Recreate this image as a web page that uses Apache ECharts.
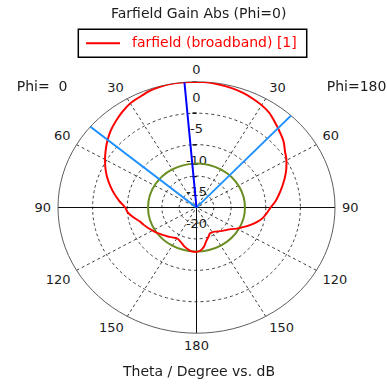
<!DOCTYPE html>
<html>
<head>
<meta charset="utf-8">
<script src="https://cdn.jsdelivr.net/npm/echarts@6/dist/echarts.min.js"></script>
<style>
html,body{margin:0;padding:0;background:#fff;overflow:hidden;}
#plot{position:absolute;left:0;top:0;width:387px;height:387px;transform:scaleY(0.9076);transform-origin:0 207.5px;}
#text{position:absolute;left:0;top:0;width:387px;height:387px;pointer-events:none;}
</style>
</head>
<body>
<div id="plot"></div>
<div id="text"></div>
<script>
// ---- data (theta measured clockwise from top; right half = Phi=180 side, left half = Phi=0 side) ----
const seriesName = 'farfield (broadband) [1]';
const thetaDeg = [0,5,10,15,20,25,30,35,40,45,50,55,60,65,70,75,80,85,90,95,100,105,110,115,120,125,130,135,140,145,150,155,160,165,170,175,180,
                  185,190,195,200,205,210,215,220,225,230,235,240,245,250,255,260,265,270,275,280,285,290,295,300,305,310,315,320,325,330,335,340,345,350,355,360];
const gainDb = [-0.02,-0.05,-0.2,-0.33,-0.55,-0.85,-1.2,-1.65,-2.35,-3.0,-3.6,-4.4,-5.0,-5.7,-6.45,-7.2,-7.9,-8.55,-9.3,-9.8,-10.3,-11.0,-11.8,-12.6,-13.3,-14.0,-14.4,-14.75,-15.05,-15.3,-15.45,-15.45,-15.0,-14.5,-13.7,-13.15,-12.95,
                -12.95,-13.2,-13.5,-13.9,-14.2,-14.35,-14.15,-13.9,-13.65,-13.35,-13.0,-12.68,-12.3,-11.9,-11.5,-10.8,-10.1,-9.7,-8.85,-8.0,-7.15,-6.3,-5.5,-4.75,-4.0,-3.25,-2.55,-1.95,-1.37,-0.87,-0.6,-0.25,-0.08,0,0,-0.02];
const mainLobeDir = 355;          // main lobe direction (5 deg on Phi=0 side)
const beamEdges = [310, 43];      // 3 dB angular width edges
const sideLobeLevel = -13;        // side lobe level circle (dB)
const radiusMin = -20, radiusMax = 0;
const angleTicks = [0,30,60,90,120,150,180,150,120,90,60,30];

const FONT = "'DejaVu Sans', Verdana, sans-serif";
const TXT = '#1c1c1c';
const NONE = 'rgba(0,0,0,0)';
const C = [196.5, 207.5], R = 138.5;

const plot = echarts.init(document.getElementById('plot'), null, {renderer:'svg'});
const circleItem = (stroke, width) => function (params, api) {
  const c = api.coord([radiusMin, 0]);
  const p = api.coord([api.value(0), 0]);
  const r = Math.hypot(p[0]-c[0], p[1]-c[1]);
  return {type:'circle', shape:{cx:c[0], cy:c[1], r:r},
          style:{fill:'none', stroke:stroke, lineWidth:width}};
};
const hiddenAngle = (i) => ({polarIndex:i, type:'value', min:0, max:360, startAngle:90, clockwise:true,
     axisLine:{show:false}, axisTick:{show:false}, axisLabel:{show:false}, splitLine:{show:false}});
const tickRadius = (i, inside) => ({polarIndex:i, type:'value', min:radiusMin, max:radiusMax, interval:5,
     axisLine:{show:false}, axisLabel:{show:false}, splitLine:{show:false},
     axisTick:{show:true, inside:inside, length:4, lineStyle:{color:'#000', width:1}}});
plot.setOption({
  animation:false,
  backgroundColor:'transparent',
  polar:[{center:C, radius:R},{center:C, radius:R},{center:C, radius:R}],
  angleAxis:[
    {polarIndex:0, type:'value', min:0, max:360, interval:30, startAngle:90, clockwise:true,
     axisLine:{show:true, lineStyle:{color:'#555', width:1}},
     axisTick:{show:false},
     axisLabel:{show:true, margin:7, color:TXT, fontFamily:FONT, fontSize:13,
                formatter:(v)=> String(angleTicks[Math.round(v/30)%12])},
     splitLine:{show:true, lineStyle:{color:[NONE,'#333','#333'], type:[3,3], width:1}}},
    {polarIndex:1, type:'value', min:0, max:360, interval:90, startAngle:90, clockwise:true,
     axisLine:{show:false}, axisTick:{show:false}, axisLabel:{show:false},
     splitLine:{show:true, lineStyle:{color:[NONE,'#000','#000','#000'], type:'solid', width:1}}},
    hiddenAngle(2)
  ],
  radiusAxis:[
    {polarIndex:0, type:'value', min:radiusMin, max:radiusMax, interval:2.5,
     axisLine:{show:false}, axisTick:{show:false},
     axisLabel:{show:true, margin:0, align:'center', verticalAlign:'top', padding:[11,0,0,0],
                color:TXT, fontFamily:FONT, fontSize:13,
                formatter:(v)=> (Math.abs(v % 5) < 1e-6 ? String(v) : '')},
     splitLine:{show:true, lineStyle:{color:[NONE,'#333','#333',NONE,'#333',NONE,'#333',NONE,NONE], type:[3,3], width:1}}},
    tickRadius(1, false),
    tickRadius(2, true)
  ],
  series:[
    {type:'custom', coordinateSystem:'polar', polarIndex:0, data:[[sideLobeLevel,0]],
     renderItem:circleItem('#6b8e23', 2), z:3, silent:true},
    {type:'line', name:seriesName, coordinateSystem:'polar', polarIndex:0,
     data:thetaDeg.map((t,i)=>[gainDb[i], t]), symbol:'none', smooth:0.3,
     lineStyle:{color:'#ff0000', width:2}, color:'#ff0000', z:4},
    ...beamEdges.map(a => ({type:'line', coordinateSystem:'polar', polarIndex:0,
     data:[[radiusMin,a],[radiusMax,a]], symbol:'none', lineStyle:{color:'#1e90ff', width:2}, z:5})),
    {type:'line', coordinateSystem:'polar', polarIndex:0,
     data:[[radiusMin,mainLobeDir],[radiusMax,mainLobeDir]], symbol:'none', lineStyle:{color:'#0000ff', width:2}, z:6}
  ]
});

const text = echarts.init(document.getElementById('text'));
const ts = (extra) => Object.assign({fontFamily:FONT, fontSize:14, fontWeight:'normal', color:TXT, lineHeight:14}, extra||{});
text.setOption({
  animation:false,
  backgroundColor:'transparent',
  title:[
    {text:'Farfield Gain Abs (Phi=0)', left:198.7, top:7, textAlign:'center', padding:0, textStyle:ts()},
    {text:'Phi=  0', left:16.7, top:80.3, padding:0, textStyle:ts()},
    {text:'Phi=180', left:326.7, top:80.3, padding:0, textStyle:ts()},
    {text:'Theta / Degree vs. dB', left:199, top:365.7, textAlign:'center', padding:0, textStyle:ts()}
  ],
  legend:{left:78.3, top:29.3, padding:[7,10,7,7.7], itemWidth:34, itemHeight:2, icon:'rect',
          borderColor:'#000', borderWidth:1.5, backgroundColor:'#fff', selectedMode:false,
          itemStyle:{color:'#ff0000'},
          textStyle:{color:'#ff0000', fontFamily:FONT, fontSize:14, lineHeight:14, padding:[0,0,0,7]}},
  grid:{left:0, top:0, width:1, height:1, show:false},
  xAxis:{type:'value', show:false},
  yAxis:{type:'value', show:false},
  series:[{type:'line', name:seriesName, data:[], symbol:'none', color:'#ff0000', lineStyle:{color:'#ff0000', width:2}}]
});
</script>
</body>
</html>
